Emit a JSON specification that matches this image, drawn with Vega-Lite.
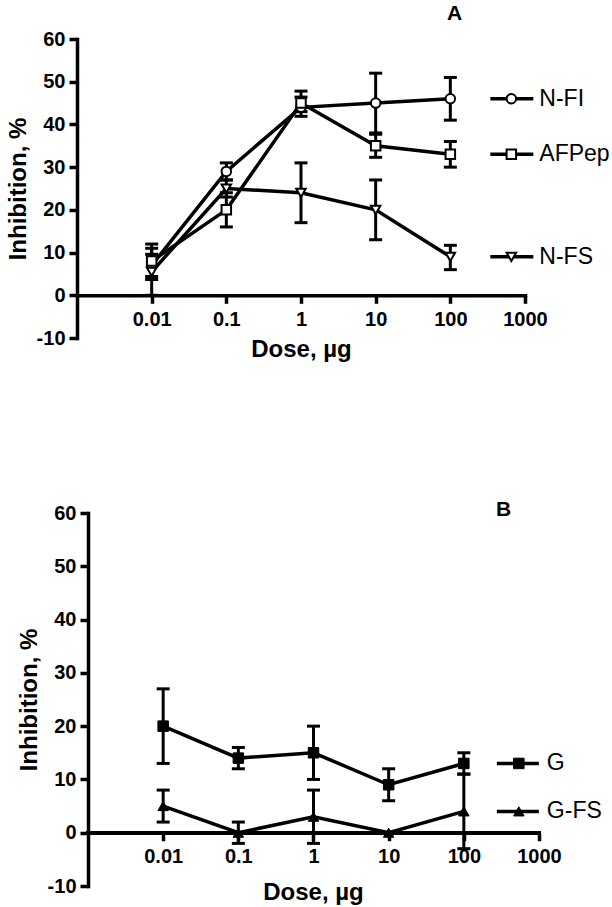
{
  "$schema": "https://vega.github.io/schema/vega-lite/v6.json",
  "padding": {"left": 6, "top": 3, "right": 0, "bottom": 0},
  "background": "white",
  "config": {
    "view": {"stroke": null},
    "font": "Liberation Sans",
    "axis": {
      "grid": false,
      "domainColor": "black", "tickColor": "black", "labelColor": "black", "titleColor": "black",
      "domainWidth": 3.5, "tickWidth": 3.5, "tickSize": 8, "domainCap": "square",
      "labelFont": "Liberation Sans", "labelFontSize": 20, "labelFontWeight": "bold",
      "titleFont": "Liberation Sans", "titleFontSize": 24, "titleFontWeight": "bold",
      "labelFlush": false, "labelOverlap": false, "labelBound": false
    },
    "title": {"font": "Liberation Sans", "fontSize": 21, "fontWeight": "bold", "color": "black", "anchor": "start", "frame": "group"}
  },
  "datasets": {
    "a": [
      {"series": "N-FI", "dose": 0.01, "mean": 7, "lo": 4.4, "hi": 9.6},
      {"series": "N-FI", "dose": 0.1, "mean": 29, "lo": 27, "hi": 31},
      {"series": "N-FI", "dose": 1, "mean": 44, "lo": 41.9, "hi": 46.4},
      {"series": "N-FI", "dose": 10, "mean": 45, "lo": 38, "hi": 52},
      {"series": "N-FI", "dose": 100, "mean": 46, "lo": 41, "hi": 51},
      {"series": "AFPep", "dose": 0.01, "mean": 8, "lo": 3.7, "hi": 12},
      {"series": "AFPep", "dose": 0.1, "mean": 20, "lo": 16, "hi": 24},
      {"series": "AFPep", "dose": 1, "mean": 45, "lo": 43, "hi": 47.8},
      {"series": "AFPep", "dose": 10, "mean": 35, "lo": 32.3, "hi": 37.7},
      {"series": "AFPep", "dose": 100, "mean": 33, "lo": 30, "hi": 36},
      {"series": "N-FS", "dose": 0.01, "mean": 5.5, "lo": 0, "hi": 11},
      {"series": "N-FS", "dose": 0.1, "mean": 25, "lo": 23, "hi": 27},
      {"series": "N-FS", "dose": 1, "mean": 24, "lo": 17, "hi": 31},
      {"series": "N-FS", "dose": 10, "mean": 20, "lo": 13, "hi": 27},
      {"series": "N-FS", "dose": 100, "mean": 9, "lo": 6, "hi": 11.7}
    ],
    "b": [
      {"series": "G", "dose": 0.01, "mean": 20, "lo": 13, "hi": 27},
      {"series": "G", "dose": 0.1, "mean": 14, "lo": 12, "hi": 16},
      {"series": "G", "dose": 1, "mean": 15, "lo": 10, "hi": 20},
      {"series": "G", "dose": 10, "mean": 9, "lo": 6, "hi": 12},
      {"series": "G", "dose": 100, "mean": 13, "lo": 11, "hi": 15},
      {"series": "G-FS", "dose": 0.01, "mean": 5, "lo": 2, "hi": 8},
      {"series": "G-FS", "dose": 0.1, "mean": 0, "lo": -2, "hi": 2},
      {"series": "G-FS", "dose": 1, "mean": 3, "lo": -2, "hi": 8},
      {"series": "G-FS", "dose": 10, "mean": 0, "lo": 0, "hi": 0},
      {"series": "G-FS", "dose": 100, "mean": 4, "lo": -3, "hi": 11}
    ]
  },
  "spacing": 137,
  "vconcat": [
    {
      "width": 448, "height": 299,
      "title": {"text": "A", "dx": 370, "offset": 5},
      "data": {"name": "a"},
      "encoding": {
        "x": {"field": "dose", "type": "quantitative",
          "scale": {"type": "log", "domain": [0.001, 1000], "nice": false},
          "axis": {"title": "Dose, µg", "offset": -42.7, "values": [0.01, 0.1, 1, 10, 100, 1000], "format": "~g", "labelPadding": 6, "titlePadding": 8}},
        "y": {"field": "mean", "type": "quantitative",
          "scale": {"domain": [-10, 60], "nice": false, "zero": false},
          "axis": {"title": "Inhibition, %", "values": [-10, 0, 10, 20, 30, 40, 50, 60], "labelExpr": "replace(datum.label, '\u2212', '-')", "labelPadding": 4, "titlePadding": 6}}
      },
      "layer": [
        {"mark": {"type": "rule", "strokeWidth": 3, "color": "black"},
         "encoding": {"y": {"field": "lo", "type": "quantitative"}, "y2": {"field": "hi"}}},
        {"mark": {"type": "tick", "orient": "horizontal", "size": 13, "thickness": 3, "color": "black", "opacity": 1},
         "encoding": {"y": {"field": "hi", "type": "quantitative"}}},
        {"mark": {"type": "tick", "orient": "horizontal", "size": 13, "thickness": 3, "color": "black", "opacity": 1},
         "encoding": {"y": {"field": "lo", "type": "quantitative"}}},
        {"mark": {"type": "line", "strokeWidth": 3.5, "color": "black"},
         "encoding": {"detail": {"field": "series"}}},
        {"mark": {"type": "point", "filled": true, "fill": "white", "stroke": "black", "strokeWidth": 2, "size": 90, "opacity": 1},
         "encoding": {"shape": {"field": "series", "type": "nominal", "scale": {"domain": ["N-FI", "AFPep", "N-FS", "G", "G-FS"], "range": ["circle", "square", "triangle-down", "square", "triangle-up"]}, "legend": null}}},
        {"transform": [{"filter": "datum.dose === 100"}],
         "mark": {"type": "rule", "strokeWidth": 3.5, "color": "black", "xOffset": 40, "x2Offset": 83},
         "encoding": {"x2": {"field": "dose"}}},
        {"transform": [{"filter": "datum.dose === 100"}],
         "mark": {"type": "point", "filled": true, "fill": "white", "stroke": "black", "strokeWidth": 2, "size": 90, "opacity": 1, "xOffset": 61},
         "encoding": {"shape": {"field": "series", "type": "nominal", "scale": {"domain": ["N-FI", "AFPep", "N-FS", "G", "G-FS"], "range": ["circle", "square", "triangle-down", "square", "triangle-up"]}, "legend": null}}},
        {"transform": [{"filter": "datum.dose === 100"}],
         "mark": {"type": "text", "dx": 89, "align": "left", "baseline": "middle", "fontSize": 23, "font": "Liberation Sans", "color": "black"},
         "encoding": {"text": {"field": "series"}}}
      ]
    },
    {
      "width": 462, "height": 373,
      "title": {"text": "B", "dx": 419, "offset": -17},
      "data": {"name": "b"},
      "encoding": {
        "x": {"field": "dose", "type": "quantitative",
          "scale": {"type": "log", "domain": [0.000714, 1000], "nice": false},
          "axis": {"title": "Dose, µg", "titleX": 236, "domain": false, "offset": -53.3, "values": [0.01, 0.1, 1, 10, 100, 1000], "format": "~g", "labelPadding": 6, "titlePadding": 14}},
        "y": {"field": "mean", "type": "quantitative",
          "scale": {"domain": [-10, 60], "nice": false, "zero": false},
          "axis": {"title": "Inhibition, %", "offset": -11, "values": [-10, 0, 10, 20, 30, 40, 50, 60], "labelExpr": "replace(datum.label, '\u2212', '-')", "labelPadding": 4, "titlePadding": 6}}
      },
      "layer": [
        {"mark": {"type": "rule", "strokeWidth": 3.5, "color": "black", "strokeCap": "square"},
         "encoding": {"x": {"datum": 0.001, "type": "quantitative"}, "x2": {"datum": 1000}, "y": {"datum": 0, "type": "quantitative"}}},
        {"mark": {"type": "rule", "strokeWidth": 3, "color": "black"},
         "encoding": {"y": {"field": "lo", "type": "quantitative"}, "y2": {"field": "hi"}}},
        {"mark": {"type": "tick", "orient": "horizontal", "size": 13, "thickness": 3, "color": "black", "opacity": 1},
         "encoding": {"y": {"field": "hi", "type": "quantitative"}}},
        {"mark": {"type": "tick", "orient": "horizontal", "size": 13, "thickness": 3, "color": "black", "opacity": 1},
         "encoding": {"y": {"field": "lo", "type": "quantitative"}}},
        {"mark": {"type": "line", "strokeWidth": 3.5, "color": "black"},
         "encoding": {"detail": {"field": "series"}}},
        {"mark": {"type": "point", "filled": true, "fill": "black", "stroke": "black", "strokeWidth": 1, "size": 110, "opacity": 1},
         "encoding": {"shape": {"field": "series", "type": "nominal", "scale": {"domain": ["N-FI", "AFPep", "N-FS", "G", "G-FS"], "range": ["circle", "square", "triangle-down", "square", "triangle-up"]}, "legend": null}}},
        {"transform": [{"filter": "datum.dose === 100"}],
         "mark": {"type": "rule", "strokeWidth": 3.5, "color": "black", "xOffset": 33, "x2Offset": 75},
         "encoding": {"x2": {"field": "dose"}}},
        {"transform": [{"filter": "datum.dose === 100"}],
         "mark": {"type": "point", "filled": true, "fill": "black", "stroke": "black", "strokeWidth": 1, "size": 110, "opacity": 1, "xOffset": 55},
         "encoding": {"shape": {"field": "series", "type": "nominal", "scale": {"domain": ["N-FI", "AFPep", "N-FS", "G", "G-FS"], "range": ["circle", "square", "triangle-down", "square", "triangle-up"]}, "legend": null}}},
        {"transform": [{"filter": "datum.dose === 100"}],
         "mark": {"type": "text", "dx": 83, "align": "left", "baseline": "middle", "fontSize": 23, "font": "Liberation Sans", "color": "black"},
         "encoding": {"text": {"field": "series"}}}
      ]
    }
  ]
}
